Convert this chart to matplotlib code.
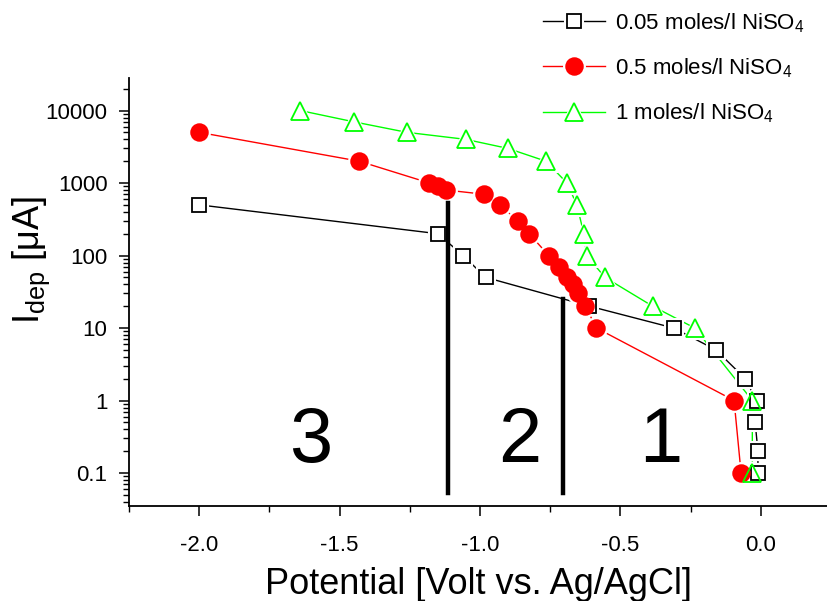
import matplotlib
matplotlib.use("Agg")
import matplotlib.pyplot as plt
from matplotlib.ticker import FixedLocator, FixedFormatter, LogLocator, MultipleLocator, NullFormatter
from matplotlib.legend_handler import HandlerTuple

plt.rcParams['font.family'] = ['Liberation Sans', 'DejaVu Sans']
plt.rcParams['mathtext.fontset'] = 'custom'
plt.rcParams['mathtext.rm'] = 'Liberation Sans'
plt.rcParams['mathtext.it'] = 'Liberation Sans'

# deposition current vs potential for three NiSO4 concentrations
pot_005 = [-2.0, -1.15, -1.06, -0.98, -0.61, -0.31, -0.16, -0.055, -0.015, -0.02, -0.01, -0.01]
cur_005 = [500, 200, 100, 50, 20, 10, 5, 2, 1, 0.5, 0.2, 0.1]

pot_05 = [-2.0, -1.43, -1.18, -1.15, -1.12, -0.985, -0.93, -0.865, -0.825, -0.755,
          -0.72, -0.69, -0.67, -0.65, -0.625, -0.585, -0.095, -0.07]
cur_05 = [5000, 2000, 1000, 900, 800, 700, 500, 300, 200, 100,
          70, 50, 40, 30, 20, 10, 1, 0.1]

pot_1 = [-1.64, -1.45, -1.26, -1.05, -0.9, -0.765, -0.69, -0.655, -0.63, -0.62,
         -0.555, -0.385, -0.235, -0.03, -0.03]
cur_1 = [10000, 7000, 5000, 4000, 3000, 2000, 1000, 500, 200, 100,
         50, 20, 10, 1, 0.1]

# region boundaries (potential, top current) and region numbers
bound_pot = [-1.113, -0.704]
bound_top = [530, 25]
bound_bottom = 0.053
region_labels = ['3', '2', '1']
region_pot = [-1.604, -0.857, -0.358]
region_cur = [0.14, 0.14, 0.14]

ytick_vals = [0.1, 1, 10, 100, 1000, 10000]
ytick_text = ['0.1', '1', '10', '100', '1000', '10000']

fig = plt.figure(figsize=(8.27, 6.01), dpi=100)
ax = fig.add_axes([0.156, 0.158, 0.844, 0.712])

def series(x, y, color, marker, size, face, label):
    ln, = ax.plot(x, y, '-', color=color, lw=1.0, zorder=2)
    gap, = ax.plot(x, y, linestyle='none', marker=marker, ms=size + 3,
                   mfc='white', mec='white', mew=1.5, zorder=3)
    mk, = ax.plot(x, y, linestyle='none', marker=marker, ms=size,
                  mfc=face, mec=color, mew=1.3, zorder=4)
    return (ln, gap, mk), label

h1 = series(pot_005, cur_005, 'black', 's', 10, 'white', '0.05 moles/l NiSO$_{4}$')
h2 = series(pot_05, cur_05, 'red', 'o', 12, 'red', '0.5 moles/l NiSO$_{4}$')
h3 = series(pot_1, cur_1, '#00ff00', '^', 13, 'none', '1 moles/l NiSO$_{4}$')

for xv, top in zip(bound_pot, bound_top):
    ax.plot([xv, xv], [bound_bottom, top], color='black', lw=3.2, zorder=5)

for t, xv, yv in zip(region_labels, region_pot, region_cur):
    ax.text(xv, yv, t, fontsize=56, ha='center', va='baseline')

ax.set_yscale('log')
ax.set_xlim(-2.25, 0.236)
ax.set_ylim(0.035, 28000)

ax.yaxis.set_major_locator(FixedLocator(ytick_vals))
ax.yaxis.set_major_formatter(FixedFormatter(ytick_text))
ax.yaxis.set_minor_locator(LogLocator(base=10, subs=range(2, 10)))
ax.yaxis.set_minor_formatter(NullFormatter())
ax.xaxis.set_major_locator(MultipleLocator(0.5))
ax.xaxis.set_minor_locator(MultipleLocator(0.25))
ax.xaxis.set_major_formatter(plt.FuncFormatter(lambda v, p: '%.1f' % v))

ax.tick_params(which='major', direction='out', length=7, width=1.1, labelsize=16)
ax.tick_params(which='minor', direction='out', length=4.5, width=1.0)
ax.tick_params(axis='x', pad=14)
ax.tick_params(axis='y', pad=8.5)

for s in ['top', 'right']:
    ax.spines[s].set_visible(False)
for s in ['left', 'bottom']:
    ax.spines[s].set_linewidth(1.3)

ax.set_xlabel('Potential [Volt vs. Ag/AgCl]', fontsize=26, labelpad=8)
ax.set_ylabel(r'I$_{\mathrm{dep}}$ [μA]', fontsize=26)
ax.yaxis.set_label_coords(-0.11, 0.575)

fig.legend([h1[0], h2[0], h3[0]], [h1[1], h2[1], h3[1]],
           handler_map={tuple: HandlerTuple(ndivide=1)},
           loc='upper left', bbox_to_anchor=(0.643, 1.0), frameon=False,
           fontsize=16, handlelength=2.8, handletextpad=0.45, labelspacing=0.97,
           borderpad=0.0)

fig.savefig('out.png', dpi=100)
